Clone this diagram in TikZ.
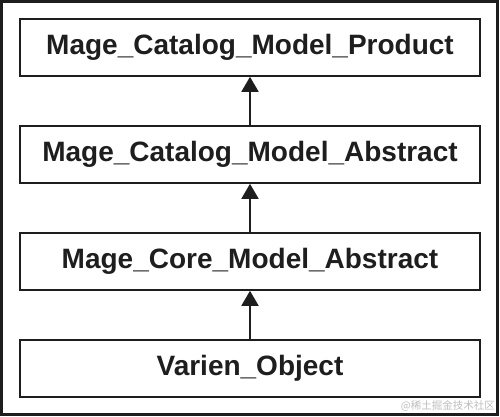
\documentclass[tikz,border=0pt]{standalone}
\usepackage{fontspec}
\setmainfont{Liberation Sans}
\newfontfamily\cjk{Noto Sans CJK SC}
\usetikzlibrary{arrows.meta}
\definecolor{ink}{HTML}{1E1E1E}
\definecolor{wm}{HTML}{BDBDBD}
\begin{document}
\begin{tikzpicture}[x=1pt,y=-1pt,
  classbox/.style={draw=ink,line width=1.6pt,minimum width=460pt,minimum height=57pt,
    inner sep=0pt,font=\fontsize{28}{30}\selectfont\bfseries,text=ink},
  inherit/.style={draw=ink,line width=1.8pt,-{Triangle[width=17pt,length=15pt]}}]
\useasboundingbox (0,0) rectangle (500,417);
\draw[draw=ink,line width=2.4pt] (1.5,1.5) rectangle (497.5,414.5);
\node[classbox] (product) at (250,47.5) {Mage\_Catalog\_Model\_Product};
\node[classbox] (catabs) at (250,154.5) {Mage\_Catalog\_Model\_Abstract};
\node[classbox] (coreabs) at (250,261.5) {Mage\_Core\_Model\_Abstract};
\node[classbox] (varien) at (250,368.5) {Varien\_Object};
\draw[inherit] (catabs.north) -- (product.south);
\draw[inherit] (coreabs.north) -- (catabs.south);
\draw[inherit] (varien.north) -- (coreabs.south);
\node[anchor=east,inner sep=0pt,text=wm,font=\cjk\fontsize{10.5}{12}\selectfont] (mark) at (495,405.5) {@稀土掘金技术社区};
\end{tikzpicture}
\end{document}
